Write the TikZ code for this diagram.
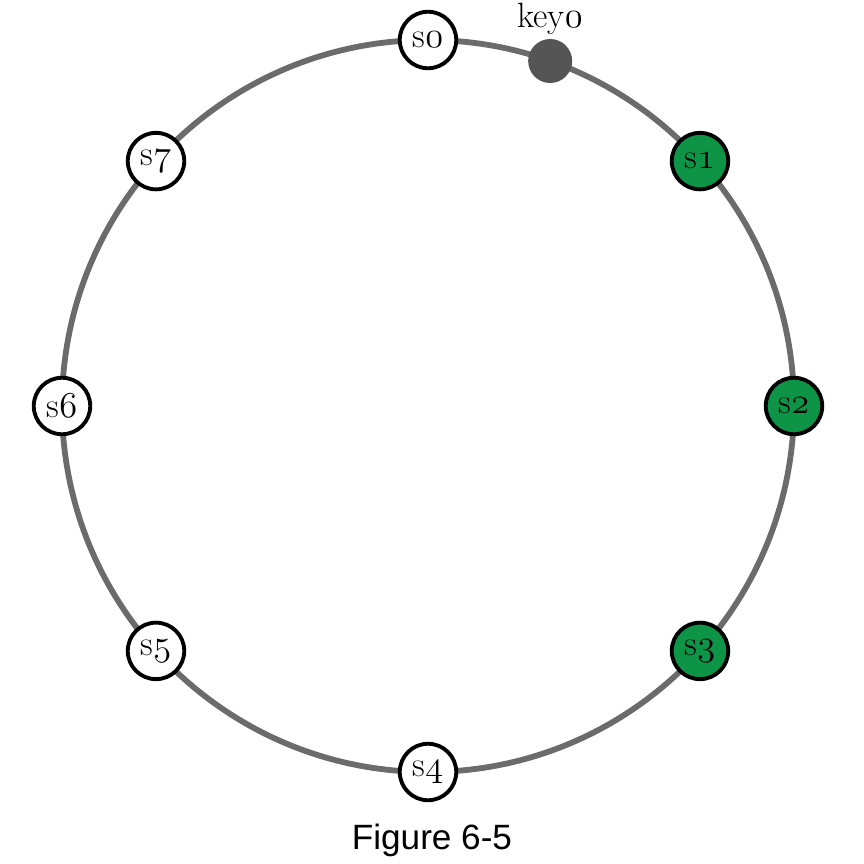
\documentclass[tikz,border=0pt]{standalone}
\usepackage{fontspec}
\usepackage{xcolor}
\usepackage{tikz}
\usetikzlibrary{positioning}
\newfontfamily\figfont{Liberation Sans}
\newcommand{\osnum}[1]{{\usefont{OML}{cmm}{m}{it}#1}}
\definecolor{ringgray}{HTML}{6B6B6B}
\definecolor{servgreen}{HTML}{0E9447}
\definecolor{keygray}{HTML}{555555}

\begin{document}
\begin{tikzpicture}[
  font=\fontsize{20}{22}\selectfont,
  ring/.style={
    draw=ringgray,
    line width=3.3pt
  },
  server/.style={
    draw=black,
    circle,
    line width=2.2pt,
    minimum size=1.13cm,
    inner sep=0pt,
    fill=white
  },
  hashed/.style={
    server,
    fill=servgreen
  },
  keydot/.style={
    circle,
    fill=keygray,
    minimum size=0.88cm,
    inner sep=0pt
  }
]
\useasboundingbox (-8.56,-9.16) rectangle (8.72,8.12);

%-----------------------------
% Hash ring
%-----------------------------
\coordinate (hub) at (0,0);
\draw[ring] (hub) circle (7.32cm);

%-----------------------------
% Servers on the ring
%-----------------------------
\node[server] (s0) at (90:7.32)   {s\osnum{0}};
\node[hashed] (s1) at (42:7.32)   {s\osnum{1}};
\node[hashed] (s2) at (0:7.32)    {s\osnum{2}};
\node[hashed] (s3) at (-42:7.32)  {s\osnum{3}};
\node[server] (s4) at (-90:7.32)  {s\osnum{4}};
\node[server] (s5) at (-138:7.32) {s\osnum{5}};
\node[server] (s6) at (180:7.32)  {s\osnum{6}};
\node[server] (s7) at (138:7.32)  {s\osnum{7}};

%-----------------------------
% Key on the ring
%-----------------------------
\node[keydot] (key) at (70.5:7.32) {};
\node[above=-1pt of key] (keytext) {key\osnum{0}};

%-----------------------------
% Caption
%-----------------------------
\node[font=\figfont\fontsize{20}{22}\selectfont] (caption) at (0.08,-8.68) {Figure 6-5};

\end{tikzpicture}
\end{document}
